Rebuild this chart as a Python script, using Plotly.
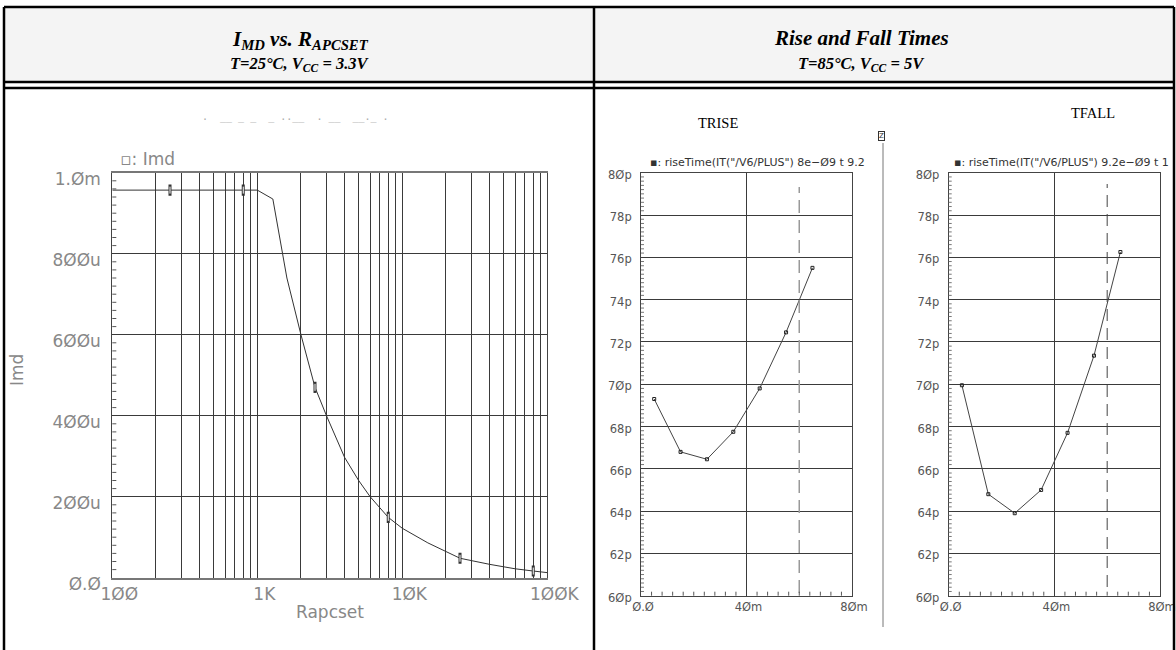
import plotly.graph_objects as go

# ---------------- data ----------------
R_OHM = [100, 250, 800, 1000, 1280, 1600, 2000, 2500, 3000, 4000, 5000, 6000,
         8000, 10000, 15000, 20000, 25000, 40000, 60000, 80000, 100000]
IMD_UA = [957, 957, 957, 957, 935, 740, 600, 470, 400, 297, 240, 200,
          149, 122, 86, 64, 48, 33, 22, 16.5, 12.5]
MARK_R = [250, 800, 2500, 8000, 25000, 80000]
MARK_I = [957, 957, 470, 149, 48, 16.5]

PTS_MM = [5, 15, 25, 35, 45, 55, 65]
TRISE_PS = [69.3, 66.8, 66.45, 67.75, 69.8, 72.45, 75.5]
TFALL_PS = [69.95, 64.8, 63.9, 65.0, 67.7, 71.35, 76.25]
MARKER_LINE_MM = 60

R_GRID = [m * d for d in (100, 1000, 10000) for m in range(1, 10)] + [100000]
R_LABELS = {100: "1ØØ", 1000: "1K", 10000: "1ØK", 100000: "1ØØK"}
I_TICKS = [0, 200, 400, 600, 800, 1000]
I_LABELS = ["Ø.Ø", "2ØØu", "4ØØu", "6ØØu", "8ØØu", "1.Øm"]
T_TICKS = [60, 62, 64, 66, 68, 70, 72, 74, 76, 78, 80]
T_LABELS = ["6Øp", "62p", "64p", "66p", "68p", "7Øp", "72p", "74p", "76p", "78p", "8Øp"]
X_TICKS = [0, 40, 80]
X_LABELS = ["Ø.Ø", "4Øm", "8Øm"]

W, H = 1176, 650


def px(x):
    return x / W


def py(y):
    return 1 - y / H


AXFONT_L = dict(family="DejaVu Sans", size=17, color="#888")
AXFONT_R = dict(family="DejaVu Sans", size=11.5, color="#555")
GRID = "#3a3a3a"

fig = go.Figure()

# ---- left chart ----
fig.add_trace(go.Scatter(x=R_OHM, y=IMD_UA, mode="lines",
                         line=dict(color="#333", width=1), xaxis="x", yaxis="y"))
fig.add_trace(go.Scatter(x=MARK_R, y=MARK_I, mode="markers",
                         marker=dict(symbol="line-ns-open", size=8, color="#333",
                                     line=dict(color="#333", width=3)),
                         xaxis="x", yaxis="y"))
fig.add_trace(go.Scatter(x=MARK_R, y=MARK_I, mode="markers",
                         marker=dict(symbol="line-ns-open", size=5, color="white",
                                     line=dict(color="white", width=1)),
                         xaxis="x", yaxis="y"))

# ---- TRISE ----
fig.add_trace(go.Scatter(x=PTS_MM, y=TRISE_PS, mode="lines+markers",
                         line=dict(color="#444", width=1),
                         marker=dict(symbol="square-open", size=3, color="#222",
                                     line=dict(color="#222", width=1)),
                         xaxis="x2", yaxis="y2"))
# ---- TFALL ----
fig.add_trace(go.Scatter(x=PTS_MM, y=TFALL_PS, mode="lines+markers",
                         line=dict(color="#444", width=1),
                         marker=dict(symbol="square-open", size=3, color="#222",
                                     line=dict(color="#222", width=1)),
                         xaxis="x3", yaxis="y3"))

minor_I = [v for v in range(20, 1000, 20) if v % 200]
minor_T = [round(60 + i * 0.2, 1) for i in range(1, 100) if i % 10]
minor_X = [v for v in range(4, 80, 4) if v % 40]

common_box = dict(showline=True, mirror=True, zeroline=False, fixedrange=True,
                  automargin=False, ticks="")

fig.update_layout(
    width=W, height=H, margin=dict(l=0, r=0, t=0, b=0, pad=0),
    paper_bgcolor="white", plot_bgcolor="white", showlegend=False,
    xaxis=dict(type="log", domain=[px(112.3), px(547.3)], range=[2, 5],
               tickmode="array", tickvals=R_GRID,
               ticktext=[R_LABELS.get(v, "") for v in R_GRID],
               showgrid=True, gridcolor=GRID, gridwidth=1,
               tickfont=AXFONT_L, ticklabelshift=7, linecolor="#777", linewidth=1.5,
               **common_box),
    yaxis=dict(domain=[py(577.7), py(172.7)], range=[0, 1000],
               tickmode="array", tickvals=I_TICKS, ticktext=I_LABELS,
               showgrid=True, gridcolor=GRID, tickfont=AXFONT_L,
               ticklabelstandoff=7, ticklabelshift=6, linecolor="#444",
               **common_box),
    xaxis2=dict(domain=[px(641), px(852)], range=[0, 80], anchor="y2",
                tickmode="array", tickvals=X_TICKS, ticktext=X_LABELS,
                showgrid=True, gridcolor=GRID, tickfont=AXFONT_R,
                ticklabelshift=2, linecolor="#444",
                **common_box),
    yaxis2=dict(domain=[py(595.7), py(172.7)], range=[60, 80], anchor="x2",
                tickmode="array", tickvals=T_TICKS, ticktext=T_LABELS,
                showgrid=True, gridcolor=GRID, tickfont=AXFONT_R,
                ticklabelstandoff=6, ticklabelshift=2, linecolor="#444",
                **common_box),
    xaxis3=dict(domain=[px(948.7), px(1160)], range=[0, 80], anchor="y3",
                tickmode="array", tickvals=X_TICKS, ticktext=X_LABELS,
                showgrid=True, gridcolor=GRID, tickfont=AXFONT_R,
                ticklabelshift=2, linecolor="#444",
                **common_box),
    yaxis3=dict(domain=[py(595.7), py(172.7)], range=[60, 80], anchor="x3",
                tickmode="array", tickvals=T_TICKS, ticktext=T_LABELS,
                showgrid=True, gridcolor=GRID, tickfont=AXFONT_R,
                ticklabelstandoff=6, ticklabelshift=2, linecolor="#444",
                **common_box),
)

shapes = []
# header background
shapes.append(dict(type="rect", xref="paper", yref="paper", x0=px(4), x1=px(1174),
                   y0=py(82), y1=py(7), fillcolor="#f4f4f4", line=dict(width=0),
                   layer="below"))
LK = dict(color="black", width=2.5)
for (x0, y0, x1, y1) in [(4, 7, 1174, 7), (4, 82, 1174, 82), (4, 88, 1174, 88),
                         (4, 7, 4, 650), (594, 7, 594, 650), (1174, 7, 1174, 650)]:
    shapes.append(dict(type="line", xref="paper", yref="paper", x0=px(x0), x1=px(x1),
                       y0=py(y0), y1=py(y1), line=LK))
# separator between TRISE / TFALL
shapes.append(dict(type="line", xref="paper", yref="paper", x0=px(883), x1=px(883),
                   y0=py(143), y1=py(627), line=dict(color="#777", width=1)))
# dashed marker lines
shapes.append(dict(type="line", xref="x2", yref="paper", x0=MARKER_LINE_MM,
                   x1=MARKER_LINE_MM, y0=py(593), y1=py(187),
                   line=dict(color="#999", width=1.5, dash="13px,7px")))
shapes.append(dict(type="line", xref="x3", yref="paper", x0=MARKER_LINE_MM,
                   x1=MARKER_LINE_MM, y0=py(587), y1=py(184),
                   line=dict(color="#444", width=1, dash="12px,7px")))

# minor tick marks (inside), positioned through the axes
for v in minor_I:
    shapes.append(dict(type="line", xref="x domain", yref="y", x0=0, x1=4 / 435,
                       y0=v, y1=v, line=dict(color="#555", width=1)))
for xa, ya in [("x2", "y2"), ("x3", "y3")]:
    for v in minor_T:
        shapes.append(dict(type="line", xref=xa + " domain", yref=ya, x0=0, x1=3 / 211,
                           y0=v, y1=v, line=dict(color="#777", width=1)))
    for v in minor_X:
        shapes.append(dict(type="line", xref=xa, yref=ya + " domain", x0=v, x1=v,
                           y0=0, y1=4 / 423, line=dict(color="#555", width=1)))
fig.update_layout(shapes=shapes)

ann = []


def txt(x, y, s, size, color="black", family="Liberation Serif", **kw):
    ann.append(dict(xref="paper", yref="paper", x=px(x), y=py(y), text=s,
                    showarrow=False, font=dict(family=family, size=size, color=color),
                    xanchor=kw.pop("xanchor", "center"), yanchor=kw.pop("yanchor", "middle"),
                    **kw))


txt(300, 40, "<b><i>I<sub>MD</sub> vs. R<sub>APCSET</sub></i></b>", 21)
txt(300, 64, "<b><i>T=25°C, V<sub>CC</sub> = 3.3V</i></b>", 16.5)
txt(861, 38, "<b><i>Rise and Fall Times</i></b>", 21)
txt(861, 64, "<b><i>T=85°C, V<sub>CC</sub> = 5V</i></b>", 16.5)

# left chart texts
txt(200, 117, ".\u00a0\u00a0__\u00a0_\u00a0_\u00a0\u00a0_\u00a0..__\u00a0\u00a0.\u00a0__\u00a0\u00a0__._\u00a0.",
    10, "#aaa", "DejaVu Sans Mono", xanchor="left")
txt(118, 159, "▫: Imd", 17, "#888", "DejaVu Sans", xanchor="left")
txt(330, 612, "Rapcset", 17, "#888", "DejaVu Sans")
txt(17, 370, "Imd", 17, "#888", "DejaVu Sans", textangle=-90)

# right chart texts
txt(718, 123, "TRISE", 14.5)
txt(1093, 113, "TFALL", 14.5)
txt(648, 163, "▪: riseTime(IT(\"/V6/PLUS\") 8e\u2212Ø9 t 9.2", 11, "#333",
    "DejaVu Sans", xanchor="left")
txt(952, 163, "▪: riseTime(IT(\"/V6/PLUS\") 9.2e\u2212Ø9 t 1", 11, "#333",
    "DejaVu Sans", xanchor="left")
txt(881, 136, "Z", 7, "#333", "DejaVu Sans", bordercolor="#333", borderwidth=1,
    borderpad=0)
fig.update_layout(annotations=ann)

fig.write_html("out.html", config={"displayModeBar": False},
               post_script="document.body.style.margin='0px';"
                           "document.body.style.overflow='hidden';")
